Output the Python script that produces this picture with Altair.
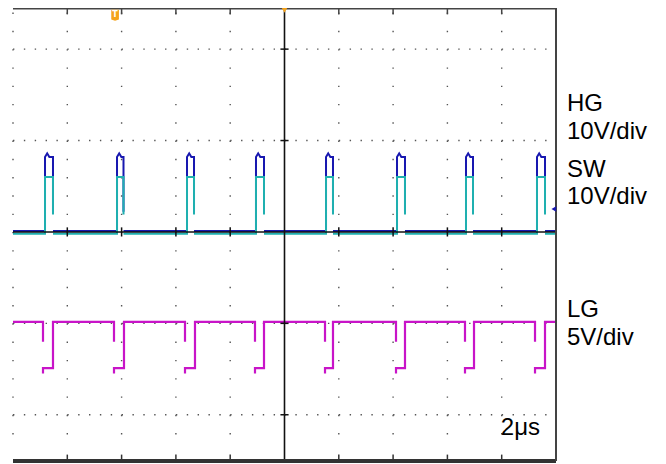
import altair as alt
import pandas as pd

# ---- screen geometry (oscilloscope: 2 us/div, 10 horizontal divisions) ----
t_min, t_max = 0.0, 20.0          # time, us
v_min, v_max = -2.506, 2.45       # vertical divisions, centre line = 0

# ---- waveform timing (us) ----
pulse_rise_us = [1.179, 3.831, 6.409, 8.950, 11.529, 14.144, 16.685, 19.300]
pulse_fall_us = [1.473, 4.070, 6.667, 9.245, 11.786, 14.438, 16.943, 19.595]
lg_low_start_us = [1.105, 3.720, 6.335, 8.913, 11.492, 14.107, 16.648, 19.227]
lg_low_end_us = [1.473, 4.088, 6.703, 9.245, 11.786, 14.438, 16.980, 19.595]

# ---- levels (divisions on screen) ----
sw_base, sw_high, sw_fall_end = -0.02, 0.60, 0.19
hg_base, hg_high, hg_peak, hg_fall_end = 0.01, 0.82, 0.86, 0.22
lg_high, lg_low, lg_fall_end = -0.985, -1.49, -1.20

# ---- graticule ----
grid_cols_us = [0, 2, 4, 6, 8, 12, 14, 16, 18]
grid_rows_div = [2, 1, -1, -2]
tick_cols_us = [2, 4, 6, 8, 12, 14, 16, 18]

# ---- annotations ----
labels = ["HG", "10V/div", "SW", "10V/div", "LG", "5V/div"]
label_v = [1.324, 1.017, 0.602, 0.306, -0.93, -1.236]
scale_label = "2μs"
scale_label_v = -2.22
trigger_t, trigger_v = 3.76, 2.37
ch_marker_v = 0.25

XS = alt.Scale(domain=[t_min, t_max], nice=False, zero=False)
YS = alt.Scale(domain=[v_min, v_max], nice=False, zero=False)


def X(f):
    return alt.X(f, type="quantitative", scale=XS, axis=None)


def Y(f):
    return alt.Y(f, type="quantitative", scale=YS, axis=None)


def frame(segs):
    rows = []
    for k, seg in enumerate(segs):
        for i, (t, v) in enumerate(seg):
            rows.append({"t": t, "v": v, "seg": k, "i": i})
    return pd.DataFrame(rows)


# SW and HG: fast falling edges only partly drawn by the scope
sw_segs, hg_segs = [], []
sw_cur, hg_cur = [(t_min, sw_base)], [(t_min, hg_base)]
for r, f in zip(pulse_rise_us, pulse_fall_us):
    sw_cur += [(r, sw_base), (r, sw_high), (f, sw_high), (f, sw_fall_end)]
    hg_cur += [(r, hg_base), (r, hg_high), (r + 0.08, hg_peak), (r + 0.16, hg_high), (f, hg_high), (f, hg_fall_end)]
    sw_segs.append(sw_cur)
    hg_segs.append(hg_cur)
    sw_cur, hg_cur = [(f, sw_base)], [(f, hg_base)]
sw_segs.append(sw_cur + [(t_max, sw_base)])
hg_segs.append(hg_cur + [(t_max, hg_base)])

lg_segs = []
lg_cur = [(t_min, lg_high)]
for s, e in zip(lg_low_start_us, lg_low_end_us):
    lg_cur += [(s, lg_high), (s, lg_fall_end)]
    lg_segs.append(lg_cur)
    lg_cur = [(s, lg_low - 0.06), (s, lg_low), (e, lg_low), (e, lg_high)]
lg_segs.append(lg_cur + [(t_max, lg_high)])


def trace(segs, color, width=2.0):
    return alt.Chart(frame(segs)).mark_line(color=color, strokeWidth=width).encode(
        x=X("t"), y=Y("v"), detail="seg:N", order=alt.Order("i", type="quantitative"))


hg = trace(hg_segs, "#1818b0")
sw = trace(sw_segs, "#1fb0b0")
lg = trace(lg_segs, "#c814c8", 2.2)


def vrules(ts, v1, v2):
    return pd.DataFrame({"t": ts, "v1": [v1] * len(ts), "v2": [v2] * len(ts)})


def hrules(vs, t1, t2):
    return pd.DataFrame({"v": vs, "t1": [t1] * len(vs), "t2": [t2] * len(vs)})


def vr(df, **kw):
    return alt.Chart(df).mark_rule(**kw).encode(x=X("t"), y=Y("v1"), y2="v2")


def hr(df, **kw):
    return alt.Chart(df).mark_rule(**kw).encode(y=Y("v"), x=X("t1"), x2="t2")


# dotted graticule
vgrid = vr(vrules(grid_cols_us, 2.4, -2.4), color="#555", strokeWidth=1.4, strokeDash=[1.4, 16.88])
hgrid = hr(hrules(grid_rows_div, t_min, t_max), color="#555", strokeWidth=1.4, strokeDash=[1.4, 9.46])

# centre axes
cv = vr(vrules([10.0], v_max, v_min), color="#111", strokeWidth=1.6)
ch = hr(hrules([0.0], t_min, t_max), color="#111", strokeWidth=1.6)
cv_ticks = hr(hrules(grid_rows_div, 9.85, 10.15), color="#111", strokeWidth=1.5)
ch_ticks = vr(vrules(tick_cols_us, 0.05, -0.05), color="#111", strokeWidth=1.5)

# frame
top_b = hr(hrules([v_max], t_min, t_max), color="#444", strokeWidth=3)
bot_b = hr(hrules([v_min], t_min, t_max), color="#333", strokeWidth=4)
right_b = vr(vrules([t_max], v_min, v_max), color="#444", strokeWidth=2)
top_ticks = vr(vrules(tick_cols_us, v_max, v_max - 0.07), color="#444", strokeWidth=1.5)
bot_ticks = vr(vrules(tick_cols_us, v_min, v_min + 0.07), color="#333", strokeWidth=1.5)

# labels
lab = alt.Chart(pd.DataFrame({"label": labels, "v": label_v, "t": [t_max] * len(labels)})).mark_text(
    align="left", baseline="alphabetic", font="Liberation Sans", fontSize=24, dx=11, color="#000").encode(
    x=X("t"), y=Y("v"), text="label:N")
scl = alt.Chart(pd.DataFrame({"label": [scale_label], "v": [scale_label_v], "t": [t_max]})).mark_text(
    align="right", baseline="alphabetic", font="Liberation Sans", fontSize=24, dx=-16, color="#000").encode(
    x=X("t"), y=Y("v"), text="label:N")

# markers
trig = alt.Chart(pd.DataFrame({"t": [trigger_t], "v": [trigger_v]})).mark_point(
    shape="M-0.7,-1L0.7,-1L0.7,0.75L0,1L-0.7,0.75Z", filled=True, size=120, color="#f5a31a", opacity=1).encode(
    x=X("t"), y=Y("v"))
trig_t = alt.Chart(pd.DataFrame({"t": [trigger_t], "v": [trigger_v], "s": ["T"]})).mark_text(
    font="DejaVu Sans", fontSize=8, fontWeight="bold", color="white", baseline="middle").encode(
    x=X("t"), y=Y("v"), text="s:N")
tpos = alt.Chart(pd.DataFrame({"t": [10.0], "v": [v_max - 0.02]})).mark_point(
    shape="triangle-down", filled=True, size=45, color="#f5a31a", opacity=1).encode(x=X("t"), y=Y("v"))
chm = alt.Chart(pd.DataFrame({"t": [19.92], "v": [ch_marker_v]})).mark_point(
    shape="triangle-left", filled=True, size=30, color="#1818b0", opacity=1).encode(x=X("t"), y=Y("v"))

chart = alt.layer(
    vgrid, hgrid, hg, sw, lg, cv, ch, cv_ticks, ch_ticks,
    top_b, bot_b, right_b, top_ticks, bot_ticks, lab, scl, trig, trig_t, tpos, chm
).properties(
    width=543, height=453,
    autosize=alt.AutoSizeParams(type="none"),
    padding={"left": 5, "top": 0, "right": 100, "bottom": 5},
    background="white",
).configure_view(stroke=None)

chart.save("out.html", embed_options={"renderer": "svg", "actions": False})
